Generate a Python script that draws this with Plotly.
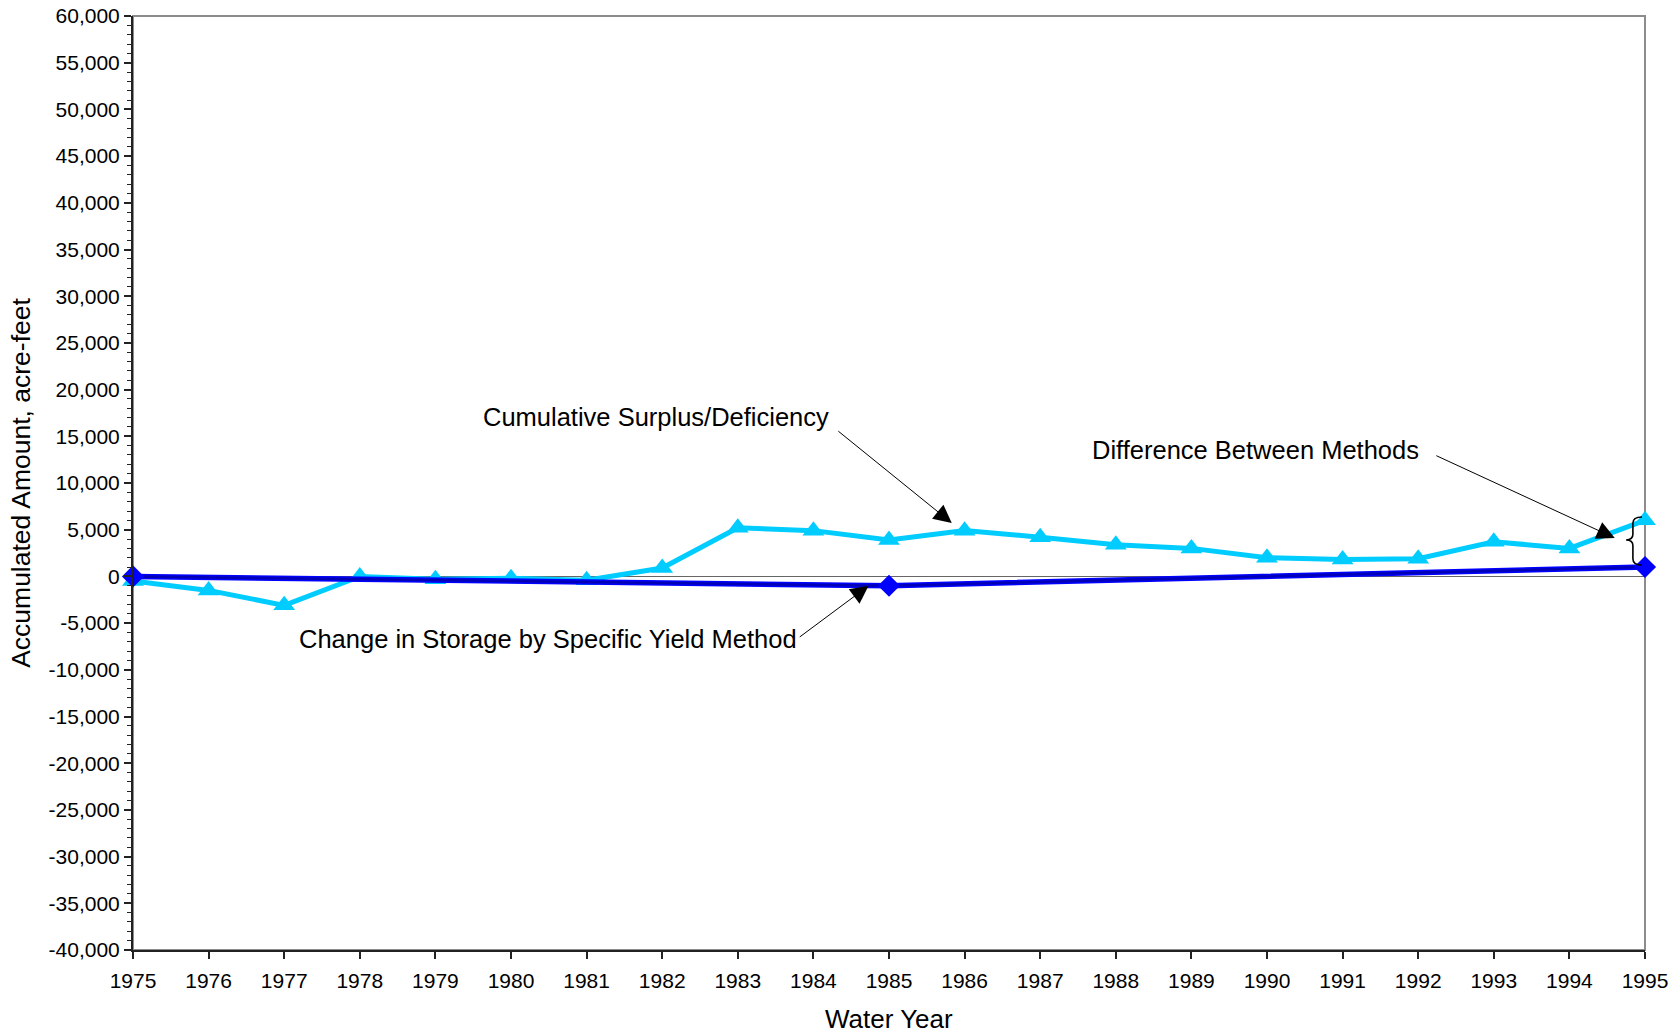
import plotly.graph_objects as go

# Water years
years = list(range(1975, 1996))

# Cumulative surplus/deficiency, acre-feet
cumulative_surplus = [-500, -1500, -3100, 0, -300, -200, -400, 900, 5200, 4900,
                      3900, 4900, 4200, 3400, 3000, 2000, 1800, 1900, 3700, 3000, 6000]

# Change in storage by specific yield method, acre-feet
storage_years = [1975, 1985, 1995]
storage_change = [0, -1000, 1000]

# Axis ticks
y_ticks = list(range(-40000, 60001, 5000))
y_tick_labels = [f"{v:,}" for v in y_ticks]

FONT = "Liberation Sans, Arial, sans-serif"

fig = go.Figure()

fig.add_trace(go.Scatter(
    x=years, y=cumulative_surplus, mode="lines+markers",
    line=dict(color="#00CCFF", width=5),
    marker=dict(symbol="triangle-up", size=19, color="#00CCFF"),
    name="Cumulative Surplus/Deficiency", showlegend=False, cliponaxis=False,
))

# storage line: blue body with a darker core
fig.add_trace(go.Scatter(
    x=storage_years, y=storage_change, mode="lines",
    line=dict(color="#0000FF", width=5.5), showlegend=False, hoverinfo="skip",
    cliponaxis=False,
))
fig.add_trace(go.Scatter(
    x=storage_years, y=storage_change, mode="lines+markers",
    line=dict(color="#0000B4", width=2.5),
    marker=dict(symbol="diamond", size=17, color="#0000FF"),
    name="Change in Storage by Specific Yield Method", showlegend=False,
    cliponaxis=False,
))

# gray frame on top and right
fig.add_shape(type="rect", xref="paper", yref="paper", x0=0, y0=0, x1=1, y1=1,
              line=dict(color="#8C8C8C", width=2), layer="below")

# brace marking the gap between the two methods in 1995
fig.add_shape(
    type="path", xref="x", yref="y",
    path=("M 1994.96,6360 Q 1994.84,6360 1994.84,5700 L 1994.84,4500 "
          "Q 1994.84,3897 1994.75,3897 Q 1994.84,3897 1994.84,3300 "
          "L 1994.84,1900 Q 1994.84,1220 1994.96,1220"),
    line=dict(color="black", width=1.6),
)

text_font = dict(family=FONT, size=25.5, color="black")
labels = [
    ("Cumulative Surplus/Deficiency", 1981.92, 17067),
    ("Difference Between Methods", 1989.85, 13534),
    ("Change in Storage by Specific Yield Method", 1980.49, -6700),
]
for txt, x, y in labels:
    fig.add_annotation(x=x, y=y, text=txt, showarrow=False, font=text_font,
                       xanchor="center", yanchor="middle")

arrows = [
    # (head_x, head_y, tail_x, tail_y)
    (1985.83, 5718, 1984.31, 15675),
    (1994.60, 4111, 1992.22, 13000),
    (1984.73, -1000, 1983.80, -6600),
]
for hx, hy, tx, ty in arrows:
    fig.add_annotation(x=hx, y=hy, ax=tx, ay=ty, xref="x", yref="y",
                       axref="x", ayref="y", text="", showarrow=True,
                       arrowhead=2, arrowsize=3.6, arrowwidth=1,
                       arrowcolor="black", standoff=0)

# x-axis title
fig.add_annotation(x=0.5, y=-0.0739, xref="paper", yref="paper", text="Water Year",
                   showarrow=False, xanchor="center", yanchor="middle", borderpad=0,
                   font=dict(family=FONT, size=26, color="black"))

fig.update_xaxes(
    range=[1975, 1995], tickmode="array", tickvals=years,
    ticktext=[str(y) for y in years],
    ticks="outside", ticklen=7, tickwidth=1.5, tickcolor="#222",
    ticklabelstandoff=4,
    showline=True, linecolor="#222", linewidth=2,
    showgrid=False, zeroline=False, automargin=False,
    tickfont=dict(family=FONT, size=21, color="black"),
)
fig.update_yaxes(
    range=[-40000, 60000], tickmode="array", tickvals=y_ticks, ticktext=y_tick_labels,
    ticks="outside", ticklen=7, tickwidth=1.5, tickcolor="#222",
    minor=dict(dtick=1000, ticks="outside", ticklen=4, tickwidth=1.2, tickcolor="#222",
               showgrid=False),
    showline=True, linecolor="#222", linewidth=2,
    showgrid=False, zeroline=True, zerolinecolor="#666", zerolinewidth=1,
    automargin=False,
    tickfont=dict(family=FONT, size=21, color="black"),
    title=dict(text="Accumulated Amount, acre-feet",
               font=dict(family=FONT, size=26.5, color="black"), standoff=10),
)

fig.update_layout(
    width=1679, height=1035,
    margin=dict(l=133, r=34, t=16, b=85),
    plot_bgcolor="white", paper_bgcolor="white",
    showlegend=False,
)

fig.write_html("out.html")
